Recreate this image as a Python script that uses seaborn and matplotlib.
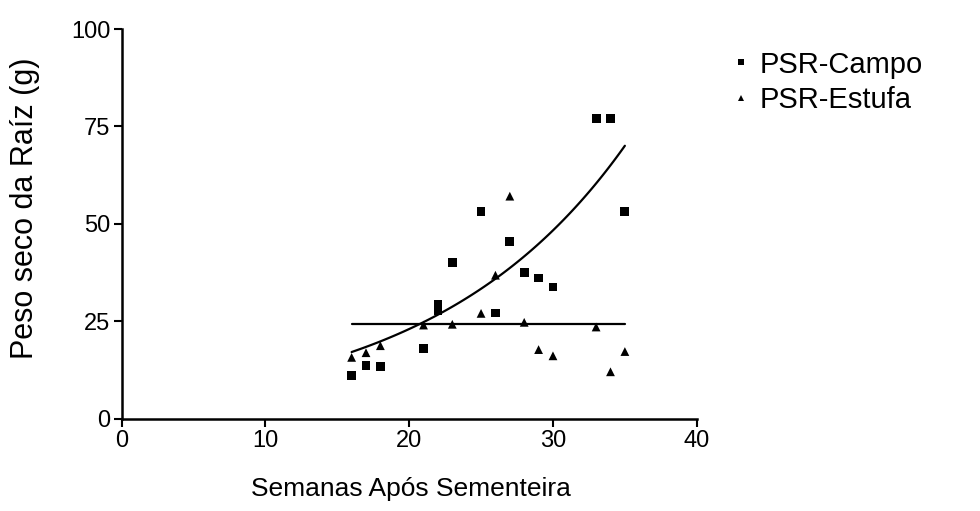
import numpy as np
import pandas as pd
import seaborn as sns
import matplotlib.pyplot as plt

# PSR-Campo (squares)
campo_sem = [16, 17, 18, 21, 22, 22, 23, 25, 26, 27, 28, 29, 30, 33, 34, 35]
campo_psr = [11.1, 13.7, 13.3, 18.0, 29.3, 27.8, 40.1, 53.1, 27.1, 45.4, 37.5, 36.1, 33.8, 77.1, 77.1, 53.1]

# PSR-Estufa (triangles)
estufa_sem = [16, 17, 18, 21, 23, 25, 26, 27, 28, 29, 30, 33, 34, 35]
estufa_psr = [15.7, 16.9, 18.7, 24.0, 24.2, 27.0, 36.8, 57.1, 24.7, 17.7, 16.1, 23.5, 12.0, 17.2]

# fitted curves
exp_a, exp_b = 5.2, 0.0743   # y = a*exp(b*x), campo
media_estufa = 24.2          # horizontal line, estufa
fit_range = [16, 35]

sns.set_theme(style="white")
plt.rcParams["font.family"] = ["Liberation Sans", "DejaVu Sans"]
plt.rcParams["text.color"] = "black"
plt.rcParams["axes.labelcolor"] = "black"

df = pd.DataFrame({
    "sem": campo_sem + estufa_sem,
    "psr": campo_psr + estufa_psr,
    "serie": ["PSR-Campo"] * len(campo_sem) + ["PSR-Estufa"] * len(estufa_sem),
})

fig = plt.figure(figsize=(9.8, 5.11), dpi=100)
ax = fig.add_axes([0.124, 0.181, 0.587, 0.762])

sns.scatterplot(data=df, x="sem", y="psr", style="serie", markers={"PSR-Campo": "s", "PSR-Estufa": "^"},
                color="black", s=40, edgecolor="black", linewidth=0, ax=ax)

xs = np.linspace(fit_range[0], fit_range[1], 100)
sns.lineplot(x=xs, y=exp_a * np.exp(exp_b * xs), color="black", lw=1.6, ax=ax)
sns.lineplot(x=fit_range, y=[media_estufa, media_estufa], color="black", lw=1.6, ax=ax)

ax.set_xlim(0, 40)
ax.set_ylim(0, 100)
ax.set_xticks([0, 10, 20, 30, 40])
ax.set_yticks([0, 25, 50, 75, 100])
sns.despine(ax=ax)
for s in ["left", "bottom"]:
    ax.spines[s].set_color("black")
    ax.spines[s].set_linewidth(1.8)
ax.tick_params(axis="both", direction="out", length=6, width=1.5, colors="black", labelsize=17, pad=2, left=True, bottom=True)
ax.set_xlabel("Semanas Após Sementeira", fontsize=19)
ax.set_ylabel("Peso seco da Raíz (g)", fontsize=22)
ax.xaxis.set_label_coords(0.503, -0.15)
ax.yaxis.set_label_coords(-0.142, 0.54)

leg = ax.legend(loc="upper left", bbox_to_anchor=(1.008, 1.012), frameon=False, fontsize=21,
                markerscale=0.7, handlelength=0.9, handletextpad=0.2, labelspacing=0.25)

fig.savefig("out.png", dpi=100)
